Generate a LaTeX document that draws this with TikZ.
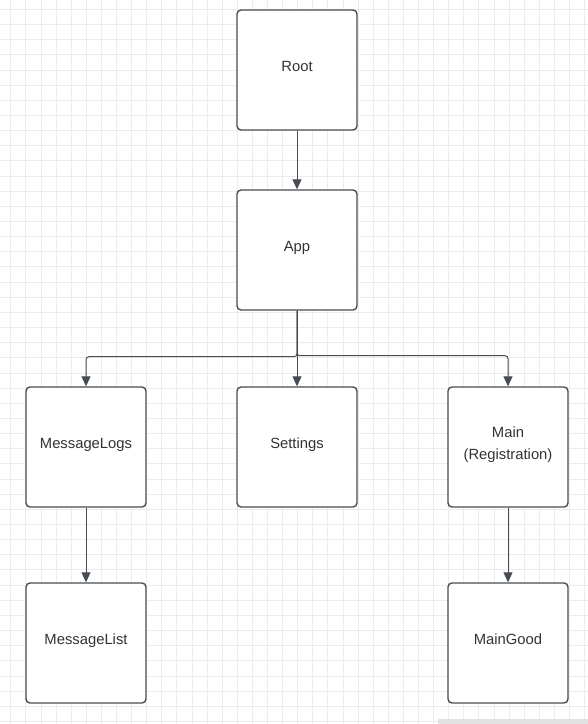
\documentclass[tikz,border=0pt]{standalone}
\usepackage{fontspec}
\setmainfont{Liberation Sans}
\usetikzlibrary{arrows.meta}
\definecolor{gridc}{HTML}{ECECEC}
\definecolor{gridm}{HTML}{E2E2E2}
\definecolor{linec}{HTML}{474C53}
\definecolor{textc}{HTML}{333333}
\tikzset{
  blk/.style={draw=linec, line width=1.4pt, rounded corners=4pt, fill=white,
    minimum width=120pt, minimum height=120pt, inner sep=0pt, text depth=7pt,
    text=textc, font=\fontsize{14.8pt}{22pt}\selectfont, align=center},
  conn/.style={draw=linec, line width=1pt, -{Triangle[length=10pt,width=9pt]}},
}
\begin{document}
\begin{tikzpicture}[x=1pt,y=-1pt]
\useasboundingbox (0,0) rectangle (588,724);
\fill[white] (0,0) rectangle (588,724);
% grid
\foreach \i in {0,...,38} {
  \pgfmathsetmacro\xx{10.7+15.1*\i}
  \draw[gridc, line width=0.8pt] (\xx,0) -- (\xx,724);
}
\foreach \i in {0,...,47} {
  \pgfmathsetmacro\yy{9.3+15.15*\i}
  \draw[gridc, line width=0.8pt] (0,\yy) -- (588,\yy);
}
\fill[gridm] (438,719) rectangle (588,724);
% nodes
\node[blk] (root) at (297,70) {Root};
\node[blk] (app) at (297,250) {App};
\node[blk] (logs) at (86,447) {MessageLogs};
\node[blk] (set) at (297,447) {Settings};
\node[blk] (main) at (508,447) {Main\\(Registration)};
\node[blk] (list) at (86,643) {MessageList};
\node[blk] (good) at (508,643) {MainGood};
% connectors
\draw[conn] (root) -- (app);
\draw[conn] (app.south) -- (set.north);
\draw[conn, rounded corners=3pt] (app.south) -- ++(0,46) -| (logs.north);
\draw[conn, rounded corners=3pt] (app.south) -- ++(0,45) -| (main.north);
\draw[conn] (logs) -- (list);
\draw[conn] (main) -- (good);
\end{tikzpicture}
\end{document}
